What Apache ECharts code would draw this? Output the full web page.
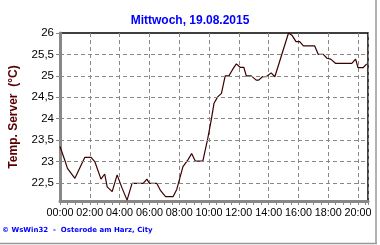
<!DOCTYPE html>
<html><head><meta charset="utf-8">
<script src="https://cdn.jsdelivr.net/npm/echarts@6/dist/echarts.min.js"></script>
<style>html,body{margin:0;padding:0;background:#fff}#c{width:380px;height:245px}</style>
</head><body><div id="c"></div>
<script>
var titleText = 'Mittwoch, 19.08.2015';
var yAxisName = 'Temp. Server  (\u00B0C)';
var footerText = '\u00A9 WsWin32  -  Osterode am Harz, City';
var times = ['00:00','00:20','00:30','01:00','01:40','02:05','02:20','02:45','03:00','03:10','03:30','03:50','04:10','04:30','04:50','05:35','05:50','06:00','06:30','06:45','07:05','07:35','07:50','08:15','08:35','08:50','09:05','09:35','09:55','10:10','10:20','10:35','10:50','11:05','11:20','11:35','11:50','12:05','12:20','12:30','12:50','13:10','13:20','13:35','13:50','14:10','14:25','15:20','15:35','15:50','16:05','16:20','17:05','17:20','17:40','17:55','18:10','18:30','19:35','19:50','20:00','20:20','20:35'];
var temps = [23.35,23.02,22.84,22.61,23.10,23.10,23.00,22.59,22.71,22.41,22.30,22.69,22.38,22.10,22.49,22.49,22.59,22.49,22.49,22.32,22.18,22.18,22.35,22.88,23.04,23.19,23.01,23.01,23.54,24.01,24.36,24.51,24.59,25.00,25.00,25.15,25.28,25.20,25.20,25.00,25.00,24.90,24.90,24.98,24.98,25.07,24.98,26.00,25.94,25.80,25.80,25.70,25.70,25.50,25.50,25.41,25.39,25.29,25.29,25.39,25.19,25.19,25.28];
var xTickLabels = ['00:00','02:00','04:00','06:00','08:00','10:00','12:00','14:00','16:00','18:00','20:00'];
var yTickValues = [22.5,23,23.5,24,24.5,25,25.5,26];
var yMin = 22.08, yMax = 26, xMaxTime = '20:40';

function toMin(t){var p=t.split(':');return +p[0]*60+ +p[1];}
var data = times.map(function(t,i){return [toMin(t), temps[i]];});

var chart = echarts.init(document.getElementById('c'));
chart.setOption({
  animation:false,
  backgroundColor:'#fff',
  title:{text:titleText,left:'center',top:10,textStyle:{color:'#0000ff',fontFamily:'Liberation Sans',fontWeight:'bold',fontSize:12}},
  grid:{left:58,top:33,right:12,bottom:44,show:true,borderColor:'#000',borderWidth:1.5,containLabel:false},
  xAxis:{type:'value',min:0,max:toMin(xMaxTime),interval:120,
    axisLine:{show:true,onZero:false,lineStyle:{color:'#888',width:3}},
    axisTick:{show:true,length:4,lineStyle:{color:'#888'}},
    minorTick:{show:true,splitNumber:4,length:4,lineStyle:{color:'#888'}},
    axisLabel:{color:'#000',fontFamily:'Liberation Sans',fontSize:10.8,margin:7,showMaxLabel:false,
      formatter:function(v){var i=Math.round(v/120);return xTickLabels[i]||'';}},
    splitLine:{show:true,lineStyle:{color:'#888',type:[4,3],width:1}}},
  yAxis:{type:'value',min:yMin,max:yMax,name:yAxisName,nameLocation:'middle',nameGap:40,nameRotate:90,
    nameTextStyle:{color:'#580000',fontFamily:'Liberation Sans',fontWeight:'bold',fontSize:12},
    axisLine:{show:true,lineStyle:{color:'#888',width:3}},
    axisTick:{show:true,length:4,customValues:yTickValues,lineStyle:{color:'#888'}},
    axisLabel:{color:'#000',fontFamily:'Liberation Sans',fontSize:11.5,margin:6,customValues:yTickValues,
      formatter:function(v){return String(v).replace('.',',');}},
    splitLine:{show:false}},
  series:[{type:'line',data:data,symbol:'none',lineStyle:{color:'#3c0000',width:1.2},
    markLine:{silent:true,symbol:'none',label:{show:false},animation:false,
      lineStyle:{color:'#888',type:[4,3],width:1},
      data:yTickValues.slice(0,-1).map(function(v){return {yAxis:v};})}}],
  graphic:[
    {type:'text',left:2,top:227,style:{text:footerText,fill:'#0000ff',font:'bold 7px "DejaVu Sans"'}},
    {type:'line',shape:{x1:376,y1:0,x2:376,y2:244},style:{stroke:'#999',lineWidth:1.5}},
    {type:'line',shape:{x1:0,y1:243.5,x2:377,y2:243.5},style:{stroke:'#999',lineWidth:1.5}}
  ]
});
</script></body></html>
